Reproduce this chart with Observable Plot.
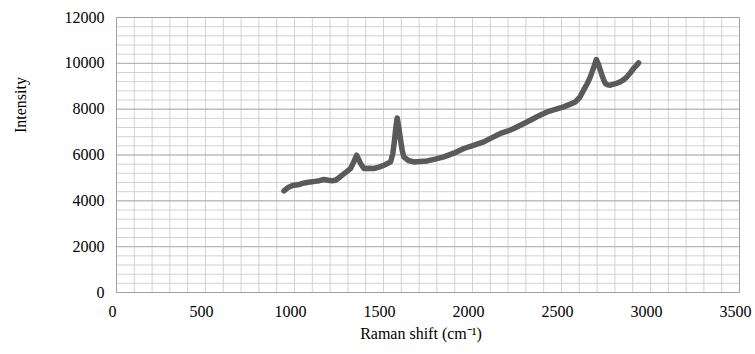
<!DOCTYPE html>
<html>
<head>
<meta charset="utf-8">
<script src="https://cdn.jsdelivr.net/npm/d3@7"></script>
<script src="https://cdn.jsdelivr.net/npm/@observablehq/plot@0.6"></script>
<style>
  html, body { margin: 0; padding: 0; background: #ffffff; }
  #chart { width: 755px; height: 354px; }
</style>
</head>
<body>
<div id="chart"></div>
<script>
// Raman spectrum
const ramanShift = [941, 960, 980, 997, 1020, 1045, 1070, 1091, 1115, 1140, 1165, 1190, 1210, 1231, 1250, 1268, 1290, 1315, 1333, 1349, 1360, 1371, 1390, 1420, 1446, 1475, 1502, 1525, 1540, 1552, 1562, 1570, 1577, 1586, 1596, 1605, 1614, 1640, 1670, 1705, 1745, 1790, 1839, 1895, 1951, 2005, 2063, 2110, 2157, 2200, 2232, 2280, 2325, 2370, 2419, 2465, 2512, 2550, 2578, 2603, 2624, 2645, 2662, 2680, 2696, 2708, 2718, 2732, 2746, 2760, 2774, 2800, 2830, 2850, 2868, 2888, 2905, 2920, 2933];
const intensity  = [4433, 4560, 4640, 4682, 4700, 4760, 4800, 4826, 4850, 4880, 4931, 4900, 4880, 4900, 5010, 5119, 5250, 5411, 5700, 5991, 5820, 5629, 5411, 5420, 5411, 5470, 5555, 5640, 5699, 6050, 6646, 7250, 7619, 7200, 6646, 6200, 5917, 5760, 5699, 5720, 5743, 5820, 5917, 6080, 6284, 6420, 6572, 6760, 6939, 7050, 7157, 7340, 7519, 7700, 7881, 7990, 8099, 8220, 8317, 8520, 8828, 9120, 9409, 9800, 10168, 9950, 9700, 9380, 9119, 9060, 9046, 9100, 9190, 9290, 9409, 9600, 9775, 9900, 10019];

const xTicks = [0, 500, 1000, 1500, 2000, 2500, 3000, 3500];
const yTicks = [0, 2000, 4000, 6000, 8000, 10000, 12000];
const xMinor = d3.range(0, 3501, 100);
const yMinor = d3.range(0, 12001, 400);

const spectrum = ramanShift.map((x, i) => ({x, y: intensity[i]}));

const chart = Plot.plot({
  width: 755,
  height: 354,
  marginLeft: 116,
  marginRight: 16,
  marginTop: 17,
  marginBottom: 62,
  style: {fontFamily: "'Liberation Serif', 'Times New Roman', serif", fontSize: "16px", color: "#000", background: "#fff"},
  x: {domain: [0, 3500]},
  y: {domain: [0, 12000]},
  marks: [
    Plot.ruleX(xMinor, {stroke: "#d2d2d2", strokeWidth: 1}),
    Plot.ruleY(yMinor, {stroke: "#d2d2d2", strokeWidth: 1}),
    Plot.ruleY(yTicks, {stroke: "#b0b0b0", strokeWidth: 1}),
    Plot.frame({stroke: "#a0a0a0"}),
    Plot.axisX(xTicks, {tickSize: 0, tickPadding: 13, dx: -4, label: null, tickFormat: d => String(d), fill: "#000", fontSize: 16}),
    Plot.axisY(yTicks, {tickSize: 0, tickPadding: 12, label: null, tickFormat: d => String(d), fill: "#000", fontSize: 16}),
    Plot.line(spectrum, {x: "x", y: "y", stroke: "#5a5a5a", strokeWidth: 5.5, strokeLinejoin: "round", strokeLinecap: "round"}),
    Plot.text(["Intensity"], {frameAnchor: "left", textAnchor: "middle", rotate: -90, dx: -96, dy: -50, fontSize: 16, fill: "#000"}),
    Plot.text(["Raman shift (cm\u207B\u00B9)"], {frameAnchor: "bottom", textAnchor: "middle", dx: -7, dy: 46, fontSize: 16, fill: "#000"})
  ]
});
document.getElementById("chart").appendChild(chart);
</script>
</body>
</html>
